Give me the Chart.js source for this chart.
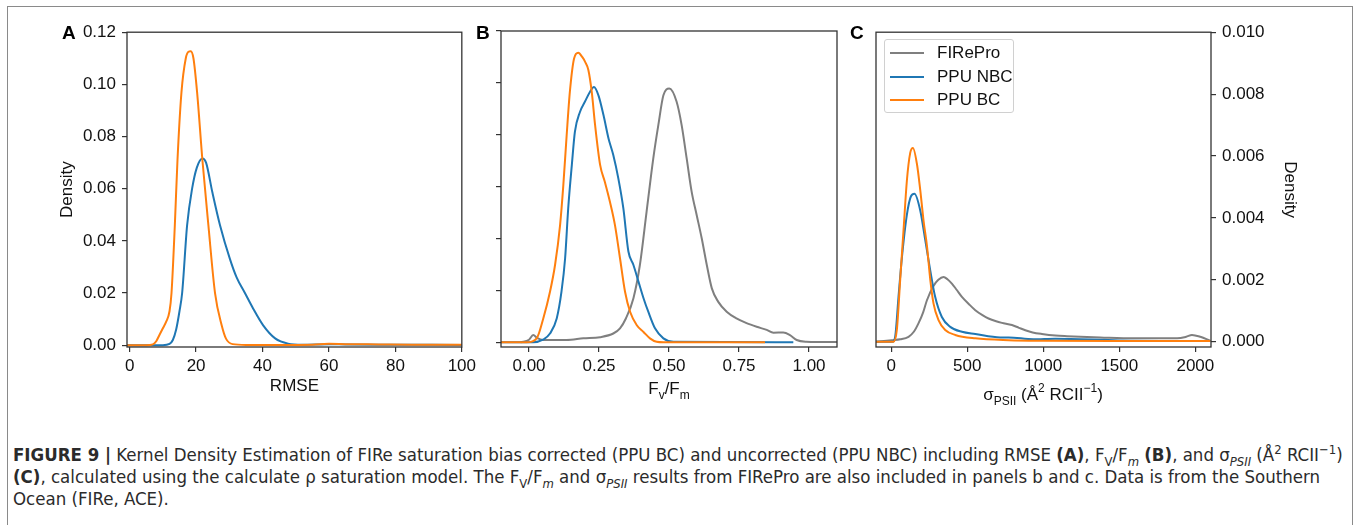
<!DOCTYPE html>
<html>
<head>
<meta charset="utf-8">
<script src="https://cdn.jsdelivr.net/npm/chart.js@4.4.0/dist/chart.umd.min.js"></script>
<style>
body { margin:0; background:#fff; width:1357px; height:525px; overflow:hidden; position:relative; font-family:"Liberation Sans", Arial, sans-serif; color:#111; }
#frame { position:absolute; left:7px; top:6px; width:1344px; height:600px; border:1px solid #8a8a8a; }
canvas { position:absolute; }
.lbl { position:absolute; font-weight:bold; font-size:19px; line-height:20px; color:#000; }
.atitle { position:absolute; font-size:17px; line-height:20px; white-space:nowrap; transform:translateX(-50%); }
.atitle sub { font-size:12px; line-height:0; vertical-align:-5px; }
.atitle sup { font-size:12px; line-height:0; vertical-align:8px; }
#legend { position:absolute; left:884px; top:39px; width:128px; height:72px; border:1px solid #d0d0d0; border-radius:3px; background:rgba(255,255,255,0.8); }
#legend .row { position:absolute; left:0; font-size:17px; line-height:20px; white-space:nowrap; }
#legend .sw { position:absolute; left:5px; top:9px; width:34px; border-top:2px solid; }
#legend .tx { position:absolute; left:52px; top:0; }
.cap { position:absolute; left:13px; white-space:nowrap; font-family:"Liberation Sans Narrow","DejaVu Sans Condensed",sans-serif; font-size:17px; line-height:22px; color:#2b2b2b; }
.cap sub, .cap sup { font-size:70%; line-height:0; }
</style>
</head>
<body>
<div id="frame"></div>

<canvas id="chartA" width="425" height="395" style="left:55px;top:16px"></canvas>
<canvas id="chartB" width="375" height="395" style="left:480px;top:16px"></canvas>
<canvas id="chartC" width="450" height="395" style="left:860px;top:16px"></canvas>

<div class="lbl" style="left:62px;top:23px">A</div>
<div class="lbl" style="left:476px;top:23px">B</div>
<div class="lbl" style="left:850px;top:23px">C</div>

<div class="atitle" style="left:669px;top:379px">F<sub>v</sub>/F<sub>m</sub></div>
<div class="atitle" style="left:1043px;top:385px">σ<sub>PSII</sub> (Å<sup>2</sup> RCII<sup>−1</sup>)</div>

<div id="legend"></div>

<div class="cap" id="cap1" style="top:444px"><b>FIGURE 9 |</b> Kernel Density Estimation of FIRe saturation bias corrected (PPU BC) and uncorrected (PPU NBC) including RMSE <b>(A)</b>, F<sub>V</sub>/F<sub><i>m</i></sub> <b>(B)</b>, and σ<sub><i>PSII</i></sub> (Å<sup>2</sup> RCII<sup>−1</sup>)</div>
<div class="cap" style="top:466px"><b>(C)</b>, calculated using the calculate ρ saturation model. The F<sub>V</sub>/F<sub><i>m</i></sub> and σ<sub><i>PSII</i></sub> results from FIRePro are also included in panels b and c. Data is from the Southern</div>
<div class="cap" style="top:488px">Ocean (FIRe, ACE).</div>

<script>
// ---- panel A : RMSE ----
const rmseTicksX = [0, 20, 40, 60, 80, 100];
const rmseTicksY = [0, 0.02, 0.04, 0.06, 0.08, 0.10, 0.12];
const rmseBcX  = [-0.8, 5, 7, 8, 9, 10, 11, 12, 12.6, 13.6, 14.4, 15.6, 16.9, 17.7, 18.4, 19.2, 20.3, 21.9, 23.7, 25.7, 27.7, 29, 31, 35, 45, 55, 60, 65, 75, 85, 100];
const rmseBcY  = [0, 0, 0.0003, 0.0015, 0.004, 0.0065, 0.009, 0.013, 0.020, 0.046, 0.071, 0.097, 0.110, 0.1125, 0.1127, 0.110, 0.097, 0.071, 0.046, 0.020, 0.0076, 0.0025, 0.0004, 0.0001, 0.0001, 0.0002, 0.0005, 0.0004, 0.0003, 0.0002, 0.0002];
const rmseNbcX = [-0.8, 10, 12, 13, 14, 15, 15.8, 17.3, 18.8, 20.2, 21.9, 23, 24.9, 27.2, 30.2, 32.2, 34.7, 37.2, 40.2, 43.8, 47.7, 52, 60, 65, 75, 100];
const rmseNbcY = [0, 0, 0.0005, 0.002, 0.006, 0.013, 0.020, 0.046, 0.060, 0.068, 0.0716, 0.070, 0.0586, 0.046, 0.033, 0.026, 0.020, 0.014, 0.0076, 0.0026, 0.0006, 0.0002, 0.0004, 0.0003, 0.0002, 0.0001];

// ---- panel B : Fv/Fm ----
const fvfmTicksX = [0, 0.25, 0.5, 0.75, 1.0];
const fvfmTicksY = [0, 1, 2, 3, 4, 5, 6];
const fvfmProX = [-0.03, 0.0, 0.015, 0.03, 0.05, 0.134, 0.194, 0.254, 0.301, 0.325, 0.346, 0.373, 0.396, 0.42, 0.444, 0.462, 0.48, 0.501, 0.527, 0.545, 0.563, 0.581, 0.599, 0.617, 0.635, 0.653, 0.676, 0.706, 0.741, 0.777, 0.813, 0.849, 0.873, 0.908, 0.932, 0.956, 0.991, 1.03, 1.1];
const fvfmProY = [0, 0.05, 0.14, 0.08, 0.045, 0.045, 0.077, 0.10, 0.17, 0.27, 0.46, 0.85, 1.49, 2.52, 3.55, 4.19, 4.76, 4.89, 4.64, 4.19, 3.55, 2.90, 2.45, 2.0, 1.49, 1.04, 0.78, 0.59, 0.46, 0.37, 0.30, 0.24, 0.185, 0.19, 0.14, 0.045, 0.01, 0.005, 0.005];
const fvfmBcX  = [-0.1, -0.008, 0.0275, 0.051, 0.075, 0.093, 0.111, 0.1226, 0.1345, 0.146, 0.161, 0.176, 0.19, 0.2, 0.212, 0.224, 0.236, 0.254, 0.271, 0.289, 0.307, 0.325, 0.343, 0.361, 0.385, 0.409, 0.432, 0.456, 0.48, 0.843];
const fvfmBcY  = [0, 0, 0.077, 0.46, 0.975, 1.49, 2.26, 3.03, 3.99, 4.83, 5.47, 5.58, 5.5, 5.41, 5.25, 4.83, 4.19, 3.42, 3.09, 2.71, 2.26, 1.62, 0.975, 0.59, 0.33, 0.20, 0.077, 0.01, 0, 0];
const fvfmNbcX = [-0.1, 0.015, 0.05, 0.075, 0.099, 0.116, 0.129, 0.14, 0.153, 0.164, 0.182, 0.2, 0.218, 0.232, 0.248, 0.266, 0.284, 0.301, 0.319, 0.337, 0.355, 0.373, 0.391, 0.409, 0.426, 0.45, 0.48, 0.516, 0.944];
const fvfmNbcY = [0, 0, 0.05, 0.17, 0.46, 0.975, 1.62, 2.58, 3.42, 4.06, 4.44, 4.64, 4.83, 4.92, 4.76, 4.38, 3.93, 3.61, 3.16, 2.58, 1.75, 1.49, 1.17, 0.85, 0.59, 0.27, 0.077, 0.01, 0];

// ---- panel C : sigma PSII ----
const sigTicksX = [0, 500, 1000, 1500, 2000];
const sigTicksY = [0, 0.002, 0.004, 0.006, 0.008, 0.010];
const sigProX = [-100, 4, 60, 114, 150, 180, 210, 235, 278, 310, 344, 370, 399, 430, 465, 510, 553, 600, 640, 690, 728, 794, 840, 882, 930, 991, 1080, 1156, 1375, 1594, 1880, 1940, 1978, 2033, 2099];
const sigProY = [0, 0.00005, 0.00008, 0.00016, 0.00033, 0.0006, 0.00095, 0.00134, 0.0018, 0.002, 0.00209, 0.00202, 0.00188, 0.00168, 0.00145, 0.00122, 0.00102, 0.00086, 0.00075, 0.00066, 0.00061, 0.00054, 0.00045, 0.00037, 0.0003, 0.00025, 0.0002, 0.00018, 0.00014, 0.00011, 0.00011, 0.00016, 0.00022, 0.00016, 0.00003];
const sigBcX  = [-100, 15, 37, 59, 81, 103, 125, 143, 169, 191, 213, 235, 257, 278, 311, 355, 421, 553, 772, 1000, 1500, 2099];
const sigBcY  = [0, 0, 0.00038, 0.002, 0.0036, 0.0052, 0.0061, 0.00626, 0.00575, 0.0049, 0.0039, 0.0031, 0.002, 0.00124, 0.0007, 0.00038, 0.00022, 0.00011, 0.00005, 0.00003, 0.00002, 0.00002];
const sigNbcX = [-100, 10, 26, 48, 70, 103, 130, 153, 191, 224, 257, 289, 333, 388, 465, 553, 717, 772, 934, 1079, 1500, 2099];
const sigNbcY = [0, 0, 0.00016, 0.00145, 0.0027, 0.0041, 0.0047, 0.00478, 0.00424, 0.00328, 0.0023, 0.00145, 0.0008, 0.00048, 0.00032, 0.00025, 0.00014, 0.00014, 0.00008, 0.0001, 0.00004, 0.00002];

const seriesNames  = ['FIRePro', 'PPU NBC', 'PPU BC'];
const seriesColors = ['#7f7f7f', '#1f77b4', '#ff7f0e'];

const FONT = '"Liberation Sans", Arial, sans-serif';

function toPoints(xs, ys){
	return xs.map(function(x, i){ return {x: x, y: ys[i]}; });
}

function line(idx, xs, ys){
	return {
		label: seriesNames[idx],
		data: toPoints(xs, ys),
		borderColor: seriesColors[idx],
		borderWidth: 2,
		pointRadius: 0,
		fill: false,
		cubicInterpolationMode: 'monotone'
	};
}

//draws the full box round the plot area (matplotlib spines)
const boxPlugin = {
	id: 'box',
	afterDatasetsDraw: function(chart){
		const a = chart.chartArea, ctx = chart.ctx;
		ctx.save();
		ctx.strokeStyle = '#333';
		ctx.lineWidth = 1.3;
		ctx.strokeRect(a.left, a.top, a.right - a.left, a.bottom - a.top);
		ctx.restore();
	}
};

function makePanel(id, datasets, o){
	const tickFont = {size: 17, family: FONT};
	new Chart(document.getElementById(id), {
		type: 'line',
		data: {datasets: datasets},
		plugins: [boxPlugin],
		options: {
			responsive: false,
			animation: false,
			layout: {padding: o.padding, autoPadding: false},
			plugins: {legend: {display: false}, tooltip: {enabled: false}},
			scales: {
				x: {
					type: 'linear', min: o.xMin, max: o.xMax,
					afterBuildTicks: function(s){ s.ticks = o.xTicks.map(function(v){ return {value: v}; }); },
					afterFit: function(s){ s.height = 64; },
					grid: {drawOnChartArea: false, tickLength: 5, color: '#333', lineWidth: 1.2},
					border: {display: false},
					ticks: {padding: 4, color: '#111', font: tickFont, maxRotation: 0, autoSkip: false, callback: o.xFmt},
					title: {display: !!o.xTitle, text: o.xTitle, color: '#111', font: tickFont, padding: {top: 0, bottom: 14}}
				},
				y: {
					type: 'linear', position: o.yPos, min: o.yMin, max: o.yMax,
					afterBuildTicks: function(s){ s.ticks = o.yTicks.map(function(v){ return {value: v}; }); },
					afterFit: function(s){ s.width = o.yWidth; },
					grid: {drawOnChartArea: false, tickLength: 5, color: '#333', lineWidth: 1.2},
					border: {display: false},
					ticks: {display: o.yLabels, padding: 6, color: '#111', font: tickFont, autoSkip: false, callback: o.yFmt},
					title: {display: !!o.yTitle, text: o.yTitle, color: '#111', font: tickFont, padding: {top: o.yTitlePad, bottom: 0}}
				}
			}
		}
	});
}

//A
makePanel('chartA', [line(2, rmseBcX, rmseBcY), line(1, rmseNbcX, rmseNbcY)], {
	padding: {top: 15, right: 18, bottom: 0, left: 0},
	xMin: -0.8, xMax: 100, xTicks: rmseTicksX, xFmt: function(v){ return String(v); }, xTitle: 'RMSE',
	yMin: -0.0007, yMax: 0.12, yTicks: rmseTicksY, yFmt: function(v){ return v.toFixed(2); },
	yPos: 'left', yWidth: 72, yLabels: true, yTitle: 'Density', yTitlePad: 2
});

//B
makePanel('chartB', [line(2, fvfmBcX, fvfmBcY), line(1, fvfmNbcX, fvfmNbcY), line(0, fvfmProX, fvfmProY)], {
	padding: {top: 15, right: 18, bottom: 0, left: 0},
	xMin: -0.1, xMax: 1.1, xTicks: fvfmTicksX, xFmt: function(v){ return v.toFixed(2); }, xTitle: '',
	yMin: -0.09, yMax: 6, yTicks: fvfmTicksY, yFmt: function(v){ return ''; },
	yPos: 'left', yWidth: 21, yLabels: false, yTitle: '', yTitlePad: 0
});

//C
makePanel('chartC', [line(2, sigBcX, sigBcY), line(1, sigNbcX, sigNbcY), line(0, sigProX, sigProY)], {
	padding: {top: 15, right: 0, bottom: 0, left: 16},
	xMin: -100, xMax: 2103, xTicks: sigTicksX, xFmt: function(v){ return String(v); }, xTitle: '',
	yMin: -0.00017, yMax: 0.010, yTicks: sigTicksY, yFmt: function(v){ return v.toFixed(3); },
	yPos: 'right', yWidth: 99, yLabels: true, yTitle: 'Density', yTitlePad: 10
});

//legend (html box like matplotlib's)
const lg = document.getElementById('legend');
seriesNames.forEach(function(name, i){
	const row = document.createElement('div');
	row.className = 'row';
	row.style.top = (3 + i * 23.5) + 'px';
	row.innerHTML = '<span class="sw" style="border-color:' + seriesColors[i] + '"></span><span class="tx">' + name + '</span>';
	lg.appendChild(row);
});

//fit caption width to the reference (first line ends near x=1343)
const cap1 = document.getElementById('cap1');
const w = cap1.getBoundingClientRect().width;
const fs = 17 * 1330 / w;
document.querySelectorAll('.cap').forEach(function(el){ el.style.fontSize = fs.toFixed(2) + 'px'; });
</script>
</body>
</html>
